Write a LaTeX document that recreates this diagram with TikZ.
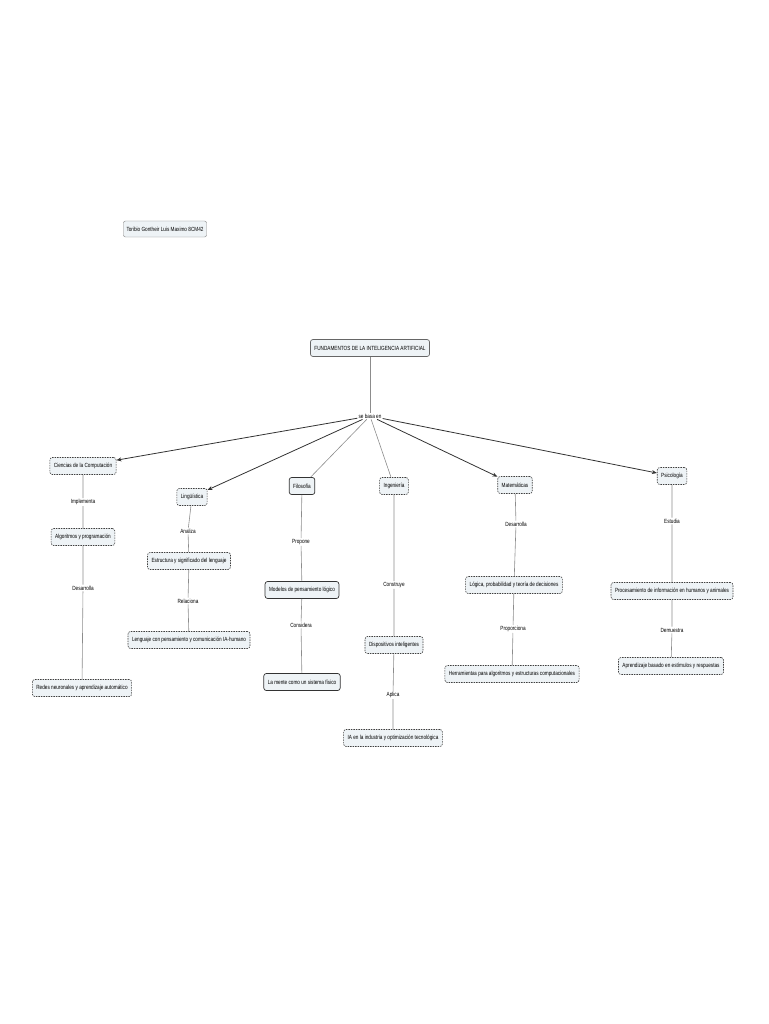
\documentclass[tikz,border=0pt]{standalone}
\usepackage{fontspec}
\setmainfont[FakeStretch=0.78]{Liberation Sans}
\usetikzlibrary{arrows.meta}
\definecolor{nf}{HTML}{EEF3F6}
\begin{document}
\begin{tikzpicture}[x=1pt,y=-1pt,font=\fontsize{6}{7}\selectfont,
 c/.style={draw=black!75,dashed,dash pattern=on 1.5pt off 1pt,fill=nf,rounded corners=2.5pt,minimum height=17pt,inner xsep=4pt,line width=0.6pt},
 s/.style={draw=black!80,fill=nf,rounded corners=2.5pt,minimum height=17pt,inner xsep=4pt,line width=0.7pt},
 l/.style={fill=white,inner sep=1pt},
 ln/.style={draw=black!45,line width=0.6pt},
 ar/.style={draw=black!80,line width=0.8pt,-{Stealth[length=5pt,width=4pt]}}]
\useasboundingbox (0,0) rectangle (768,1024);
\node[draw=black!50,fill=nf,rounded corners=2pt,minimum height=16pt,inner xsep=3pt] (autor) at (165,229) {Toribio Gontheir Luis Maximo 8CM42};
\node[s,draw=black!60] (root) at (370,348) {FUNDAMENTOS DE LA INTELIGENCIA ARTIFICIAL};
\node[l] (base) at (370,416) {se basa en};
\node[c] (cc) at (83,466) {Ciencias de la Computación};
\node[c] (li) at (192,497) {Lingüística};
\node[s] (fi) at (302,486) {Filosofía};
\node[c] (in) at (394,486) {Ingeniería};
\node[c] (ma) at (515,485) {Matemáticas};
\node[c] (ps) at (672,476) {Psicología};
% column 1
\node[l] (l1) at (83,502) {Implementa};
\node[c] (alg) at (83,537) {Algoritmos y programación};
\node[l] (l2) at (83,588) {Desarrolla};
\node[c] (red) at (82,688) {Redes neuronales y aprendizaje automático};
% column 2
\node[l] (l3) at (188,531) {Analiza};
\node[c] (est) at (189,561) {Estructura y significado del lenguaje};
\node[l] (l4) at (188,601) {Relaciona};
\node[c] (len) at (189,640) {Lenguaje con pensamiento y comunicación IA-humano};
% column 3
\node[l] (l5) at (301,542) {Propone};
\node[s] (mod) at (302,590) {Modelos de pensamiento lógico};
\node[l] (l6) at (301,625) {Considera};
\node[s] (men) at (302,682) {La mente como un sistema físico};
% column 4
\node[l] (l7) at (394,585) {Construye};
\node[c] (dis) at (394,645) {Dispositivos inteligentes};
\node[l] (l8) at (393,695) {Aplica};
\node[c] (ia) at (393,738) {IA en la industria y optimización tecnológica};
% column 5
\node[l] (l9) at (516,524) {Desarrolla};
\node[c] (log) at (514,585) {Lógica, probabilidad y teoría de decisiones};
\node[l] (l10) at (513,629) {Proporciona};
\node[c] (her) at (512,674) {Herramientas para algoritmos y estructuras computacionales};
% column 6
\node[l] (l11) at (672,521) {Estudia};
\node[c] (pro) at (672,591) {Procesamiento de información en humanos y animales};
\node[l] (l12) at (672,630) {Demuestra};
\node[c] (apr) at (671,666) {Aprendizaje basado en estímulos y respuestas};
% connectors
\draw[ln] (root) -- (base);
\draw[ar] (base) -- (cc);
\draw[ar] (base) -- (li);
\draw[ln] (base) -- (fi);
\draw[ln] (base) -- (in);
\draw[ar] (base) -- (ma);
\draw[ar] (base) -- (ps);
\draw[ln] (cc) -- (l1) -- (alg) -- (l2) -- (red);
\draw[ln] (li) -- (l3) -- (est) -- (l4) -- (len);
\draw[ln] (fi) -- (l5) -- (mod) -- (l6) -- (men);
\draw[ln] (in) -- (l7) -- (dis) -- (l8) -- (ia);
\draw[ln] (ma) -- (l9) -- (log) -- (l10) -- (her);
\draw[ln] (ps) -- (l11) -- (pro) -- (l12) -- (apr);
\end{tikzpicture}
\end{document}
